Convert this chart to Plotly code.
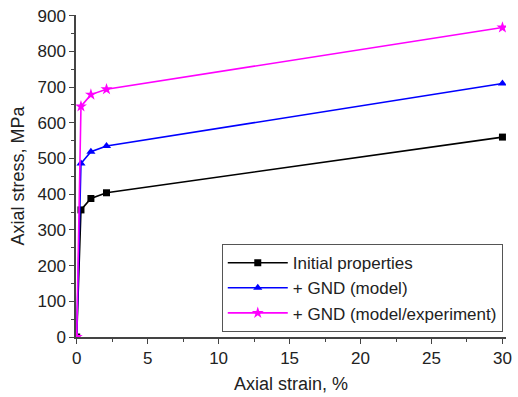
import plotly.graph_objects as go

strain = [0, 0.3, 1.0, 2.1, 30]
initial = [0, 356, 388, 404, 560]
gnd_model = [0, 486, 519, 535, 710]
gnd_exp = [0, 646, 679, 694, 867]
names = ["Initial properties", "+ GND (model)", "+ GND (model/experiment)"]

FONT = "Liberation Sans, Arial"
fig = go.Figure()
specs = [(initial, "black", "square", 7), (gnd_model, "#0000ff", "triangle-up", 8), (gnd_exp, "#ff00ff", "star", 9)]
for (y, c, sym, sz), n in zip(specs, names):
    fig.add_trace(go.Scatter(x=strain, y=y, name=n, mode="lines+markers",
                             line=dict(color=c, width=1.6),
                             marker=dict(symbol=sym, size=sz, color=c)))

axis_common = dict(showline=True, linecolor="#444", linewidth=1.5, ticks="outside",
                   ticklen=5, tickwidth=1.2, tickcolor="#444", showgrid=False, zeroline=False,
                   tickfont=dict(family=FONT, size=17, color="#222"),
                   mirror=False)
fig.update_xaxes(range=[-0.05, 30.25], dtick=5, tick0=0,
                 minor=dict(ticks="outside", ticklen=3, dtick=2.5, tickcolor="#444"),
                 title=dict(text="Axial strain, %", font=dict(family=FONT, size=18, color="#222"), standoff=10),
                 **axis_common)
fig.update_yaxes(range=[0, 902], dtick=100, tick0=0,
                 minor=dict(ticks="outside", ticklen=3, dtick=50, tickcolor="#444"),
                 title=dict(text="Axial stress, MPa", font=dict(family=FONT, size=18, color="#222"), standoff=8),
                 **axis_common)
fig.update_layout(width=518, height=397, margin=dict(l=76, r=6, t=15, b=59),
                  plot_bgcolor="white", paper_bgcolor="white",
                  legend=dict(x=0.339, y=0.015, xanchor="left", yanchor="bottom",
                              bordercolor="#555", borderwidth=1, bgcolor="white",
                              font=dict(family=FONT, size=17, color="#222"),
                              tracegroupgap=0, itemwidth=60),
                  showlegend=True)
fig.write_html("out.html")
